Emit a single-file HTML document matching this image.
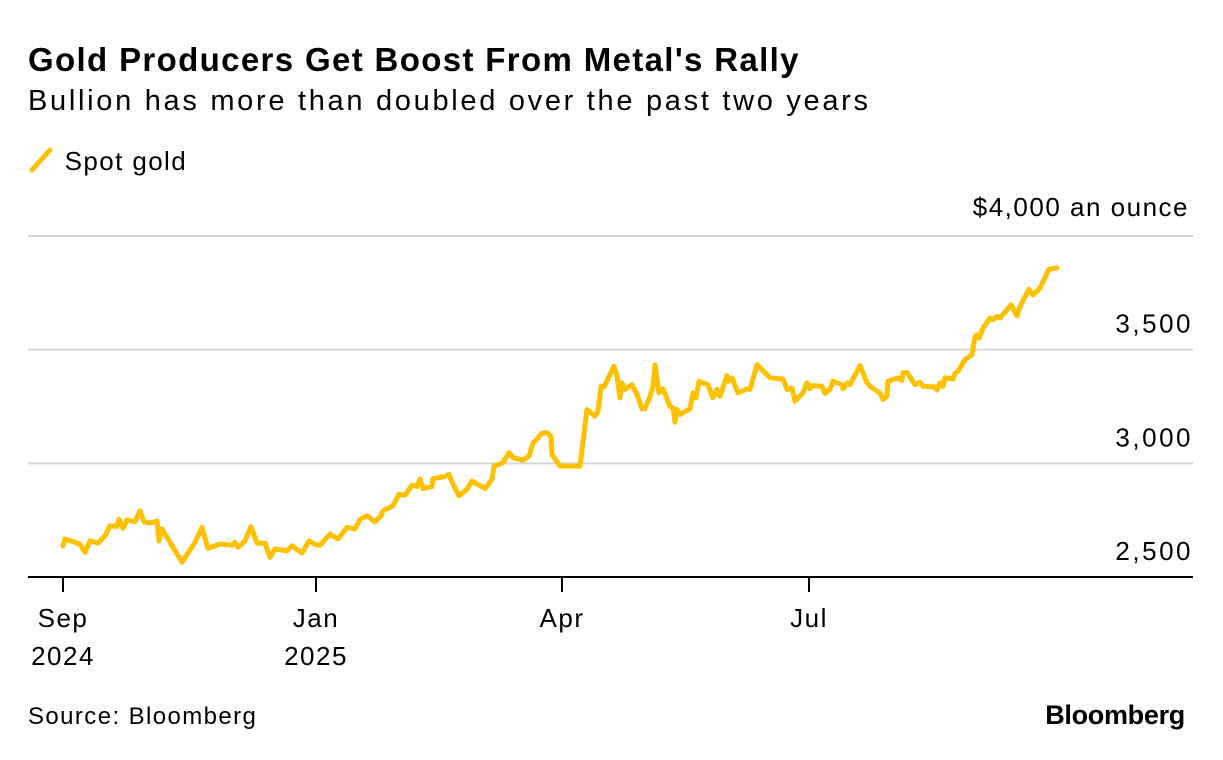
<!DOCTYPE html>
<html><head><meta charset="utf-8">
<style>
body{margin:0;background:#fff;font-family:"Liberation Sans",sans-serif;color:#000;}
#wrap{position:relative;width:1223px;height:760px;overflow:hidden;}
.t{position:absolute;white-space:nowrap;}
</style></head>
<body>
<div id="wrap">
<div class="t" style="left:28px;top:41px;font-size:33px;font-weight:bold;letter-spacing:1.35px;">Gold Producers Get Boost From Metal's Rally</div>
<div class="t" style="left:28px;top:85px;font-size:29px;letter-spacing:2.7px;">Bullion has more than doubled over the past two years</div>
<div class="t" style="left:28px;top:146px;font-size:26px;letter-spacing:1.4px;">
<svg width="28" height="28" style="vertical-align:-4px"><line x1="4" y1="24" x2="22" y2="4" stroke="#FFC000" stroke-width="5" stroke-linecap="round"/></svg> Spot gold</div>
<div class="t" style="right:34px;top:192px;font-size:26px;letter-spacing:1.5px;">$4,000 an ounce</div>
<svg id="chart" width="1223" height="760" style="position:absolute;left:0;top:0"></svg>
<div class="t" style="left:28px;top:703px;font-size:24px;letter-spacing:1.4px;">Source: Bloomberg</div>
<div class="t" style="right:38px;top:700px;font-size:27px;font-weight:bold;letter-spacing:-0.3px;">Bloomberg</div>
</div>
<script>
const times=[0,0.2,1.7,2.2,2.7,3.5,4.2,4.7,5.4,5.6,6.0,6.4,7.2,7.7,8.1,8.7,9.4,9.6,9.9,11.9,13.2,13.9,14.5,15.7,16.9,17.2,17.5,18.2,18.8,19.4,20.2,20.7,21.2,22.4,22.9,23.9,24.6,25.4,25.7,26.7,27.5,28.4,29.2,29.7,30.4,31.2,31.8,32.0,33.0,33.6,34.2,34.9,35.4,35.7,36.0,36.9,37.0,38.2,38.6,39.0,39.6,40.4,40.9,42.2,42.9,43.1,44.0,44.6,45.0,46.0,46.6,47.0,47.9,48.4,48.8,48.9,49.7,51.4,51.7,52.4,53.2,53.5,53.8,54.1,55.1,55.4,55.7,55.9,56.2,56.9,57.4,57.9,58.2,58.7,59.0,59.2,59.6,60.0,60.7,61.0,61.2,61.4,61.7,62.7,63.0,63.3,63.6,64.5,64.9,65.0,65.4,65.7,66.4,66.5,66.9,67.5,68.4,68.7,69.4,70.4,70.7,72.0,72.4,72.9,73.2,74.0,74.4,74.7,74.9,75.9,76.2,76.7,77.0,77.9,78.0,78.4,78.7,79.7,80.4,80.7,81.7,82.0,82.4,82.5,83.5,83.9,84.0,84.4,85.2,85.7,86.0,87.2,87.4,87.7,88.0,88.2,89.0,89.2,89.5,90.2,90.9,91.2,91.4,91.6,92.0,92.7,93.0,93.4,93.7,94.8,95.4,95.7,96.6,97.0,97.7,98.6,99.4];
const gold=[2637,2667,2645,2608,2659,2649,2681,2725,2722,2754,2714,2751,2743,2791,2743,2737,2746,2659,2711,2565,2652,2718,2626,2645,2640,2652,2630,2659,2721,2649,2649,2586,2623,2615,2637,2605,2659,2640,2640,2689,2667,2718,2711,2754,2769,2743,2769,2791,2813,2864,2860,2904,2898,2930,2889,2898,2933,2942,2952,2908,2857,2886,2922,2889,2930,2988,3003,3047,3025,3014,3032,3088,3132,3135,3117,3039,2988,2988,2988,3237,3207,3229,3339,3336,3427,3383,3288,3354,3325,3346,3303,3240,3240,3295,3339,3434,3310,3328,3251,3244,3181,3237,3215,3240,3310,3288,3361,3346,3295,3288,3325,3295,3386,3361,3376,3310,3328,3325,3434,3390,3376,3371,3325,3332,3273,3310,3354,3328,3342,3339,3307,3325,3361,3346,3328,3354,3346,3430,3354,3339,3310,3281,3295,3361,3376,3365,3398,3400,3346,3357,3339,3336,3322,3354,3339,3376,3371,3395,3405,3456,3478,3556,3566,3551,3595,3639,3632,3646,3639,3697,3649,3690,3766,3741,3771,3854,3860];
const yTicks=[2500,3000,3500,4000];
const yTickLabels=["2,500","3,000","3,500",""];
const xTickTimes=[0,25.3,49.9,74.6];
const xTickLine1=["Sep","Jan","Apr","Jul"];
const xTickLine2=["2024","2025","",""];

const svg=document.getElementById('chart');
const NS='http://www.w3.org/2000/svg';
const xS=t=>63+t*10;
const yS=v=>577-(v-2500)*(341/1500);
function mk(tag,attrs){const e=document.createElementNS(NS,tag);for(const k in attrs)e.setAttribute(k,attrs[k]);svg.appendChild(e);return e;}
yTicks.forEach((v,i)=>{
  if(v!==2500){const g=mk('line',{x1:28,x2:1193,y1:yS(v),y2:yS(v),stroke:'#d6d6d6','stroke-width':2});
  
  }
  if(yTickLabels[i]){const t=mk('text',{x:1193,y:yS(v)-17,'text-anchor':'end','font-size':26,'letter-spacing':2.5,'font-family':'Liberation Sans, sans-serif'});t.textContent=yTickLabels[i];
  
  }
});
const ax=mk('line',{x1:28,x2:1193,y1:577,y2:577,stroke:'#000','stroke-width':2});


xTickTimes.forEach((t,i)=>{
  const tk=mk('line',{x1:xS(t),x2:xS(t),y1:577,y2:592,stroke:'#000','stroke-width':2});
  
  
  const a=mk('text',{x:xS(t),y:627,'text-anchor':'middle','font-size':26,'letter-spacing':1.5,'font-family':'Liberation Sans, sans-serif'});a.textContent=xTickLine1[i];
  
  
  if(xTickLine2[i]){const b=mk('text',{x:xS(t),y:665,'text-anchor':'middle','font-size':26,'letter-spacing':1.5,'font-family':'Liberation Sans, sans-serif'});b.textContent=xTickLine2[i];
  
  }
});
const d=times.map((t,i)=>(i?'L':'M')+xS(t).toFixed(1)+' '+yS(gold[i]).toFixed(1)).join(' ');
const p=mk('path',{d:d,fill:'none',stroke:'#FFC000','stroke-width':5,'stroke-linejoin':'round','stroke-linecap':'round'});


</script>
</body></html>
